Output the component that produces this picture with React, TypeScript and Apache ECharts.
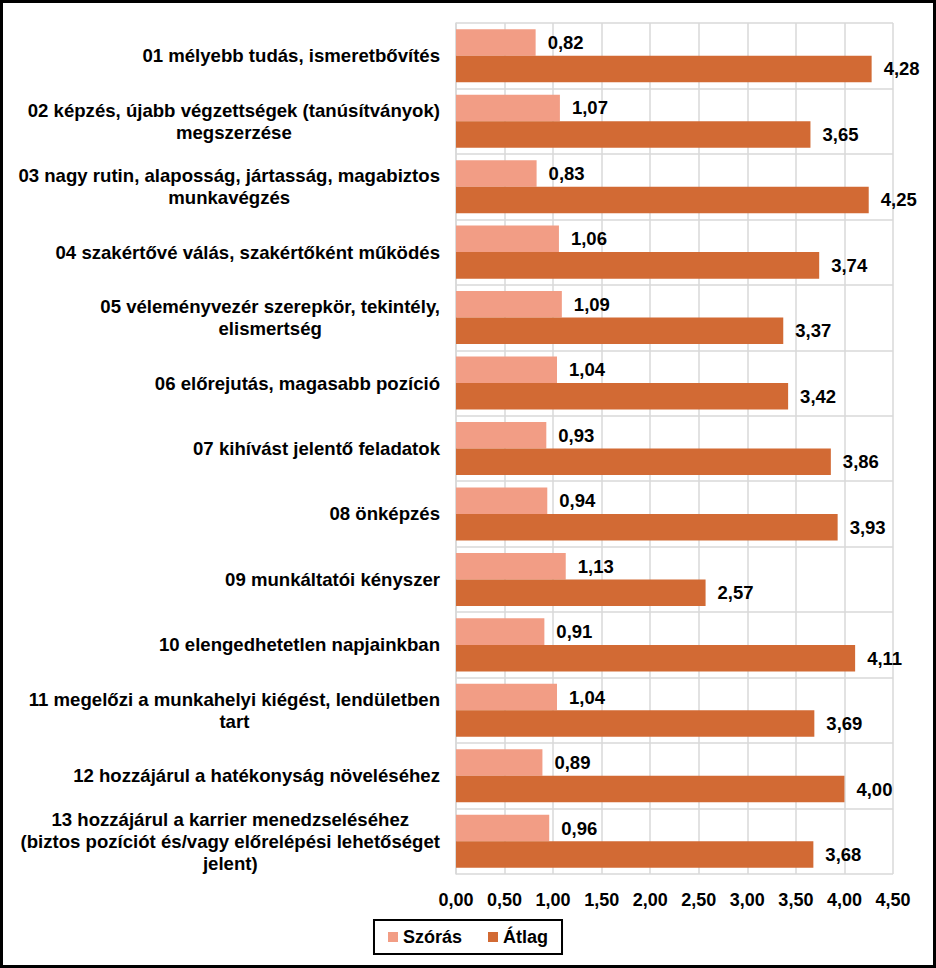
import React, { useEffect, useRef } from "react";
import * as echarts from "echarts";

const categories: string[] = [
  "01 mélyebb tudás, ismeretbővítés",
  "02 képzés, újabb végzettségek (tanúsítványok)\nmegszerzése",
  "03 nagy rutin, alaposság, jártasság, magabiztos\nmunkavégzés",
  "04 szakértővé válás, szakértőként működés",
  "05 véleményvezér szerepkör, tekintély,\nelismertség",
  "06 előrejutás, magasabb pozíció",
  "07 kihívást jelentő feladatok",
  "08 önképzés",
  "09 munkáltatói kényszer",
  "10 elengedhetetlen napjainkban",
  "11 megelőzi a munkahelyi kiégést, lendületben\ntart",
  "12 hozzájárul a hatékonyság növeléséhez",
  "13 hozzájárul a karrier menedzseléséhez\n(biztos pozíciót és/vagy előrelépési lehetőséget\njelent)",
];

const szoras: number[] = [0.82, 1.07, 0.83, 1.06, 1.09, 1.04, 0.93, 0.94, 1.13, 0.91, 1.04, 0.89, 0.96];
const atlag: number[] = [4.28, 3.65, 4.25, 3.74, 3.37, 3.42, 3.86, 3.93, 2.57, 4.11, 3.69, 4.0, 3.68];

const FONT = "'Liberation Sans', Arial, sans-serif";
const fmt = (v: number) => v.toFixed(2).replace(".", ",");

export default function App() {
  const ref = useRef<HTMLDivElement>(null);
  useEffect(() => {
    document.body.style.margin = "0";
    if (!ref.current) return;
    const chart = echarts.init(ref.current, null, { renderer: "svg" });
    const labelStyle = {
      show: true,
      position: "right" as const,
      distance: 12,
      color: "#000",
      fontFamily: FONT,
      fontWeight: "bold" as const,
      fontSize: 18.5,
      formatter: (p: any) => fmt(p.value),
    };
    chart.setOption({
      animation: false,
      backgroundColor: "#fff",
      textStyle: { fontFamily: FONT },
      grid: { left: 453, top: 20, right: 40, bottom: 91, containLabel: false },
      legend: {
        bottom: 11,
        left: "center",
        itemWidth: 10,
        itemHeight: 10,
        itemGap: 26,
        padding: [8, 14, 8, 14],
        borderColor: "#000",
        borderWidth: 2,
        icon: "rect",
        textStyle: { fontFamily: FONT, fontWeight: "bold", fontSize: 18, color: "#000" },
        data: ["Szórás", "Átlag"],
      },
      xAxis: {
        type: "value",
        min: 0,
        max: 4.5,
        interval: 0.5,
        axisLine: { show: false },
        axisTick: { show: false },
        splitLine: { show: true, lineStyle: { color: "#D9D9D9", width: 1.5 } },
        axisLabel: {
          margin: 17,
          color: "#000",
          fontFamily: FONT,
          fontWeight: "bold",
          fontSize: 18,
          formatter: (v: number) => fmt(v),
        },
      },
      yAxis: {
        type: "category",
        inverse: true,
        data: categories,
        axisLine: { show: true, lineStyle: { color: "#D9D9D9", width: 1.5 } },
        axisTick: { show: false },
        splitLine: { show: true, lineStyle: { color: "#D9D9D9", width: 1.5 } },
        axisLabel: {
          margin: 16,
          align: "right",
          formatter: (v: string) => v.split("\n").map((l) => `{c|${l}}`).join("\n"),
          rich: {
            c: {
              align: "center",
              color: "#000",
              fontFamily: FONT,
              fontWeight: "bold",
              fontSize: 18.6,
              lineHeight: 22,
            },
          },
        },
      },
      series: [
        {
          name: "Szórás",
          type: "bar",
          data: szoras,
          barGap: "0%",
          barCategoryGap: "19%",
          itemStyle: { color: "#F29D85" },
          label: labelStyle,
        },
        {
          name: "Átlag",
          type: "bar",
          data: atlag,
          barGap: "0%",
          barCategoryGap: "19%",
          itemStyle: { color: "#D26A34" },
          label: labelStyle,
        },
      ],
    });
    return () => chart.dispose();
  }, []);
  return (
    <div style={{ width: 936, height: 968, boxSizing: "border-box", border: "3px solid #000", background: "#fff" }}>
      <div ref={ref} style={{ width: 930, height: 962 }} />
    </div>
  );
}
